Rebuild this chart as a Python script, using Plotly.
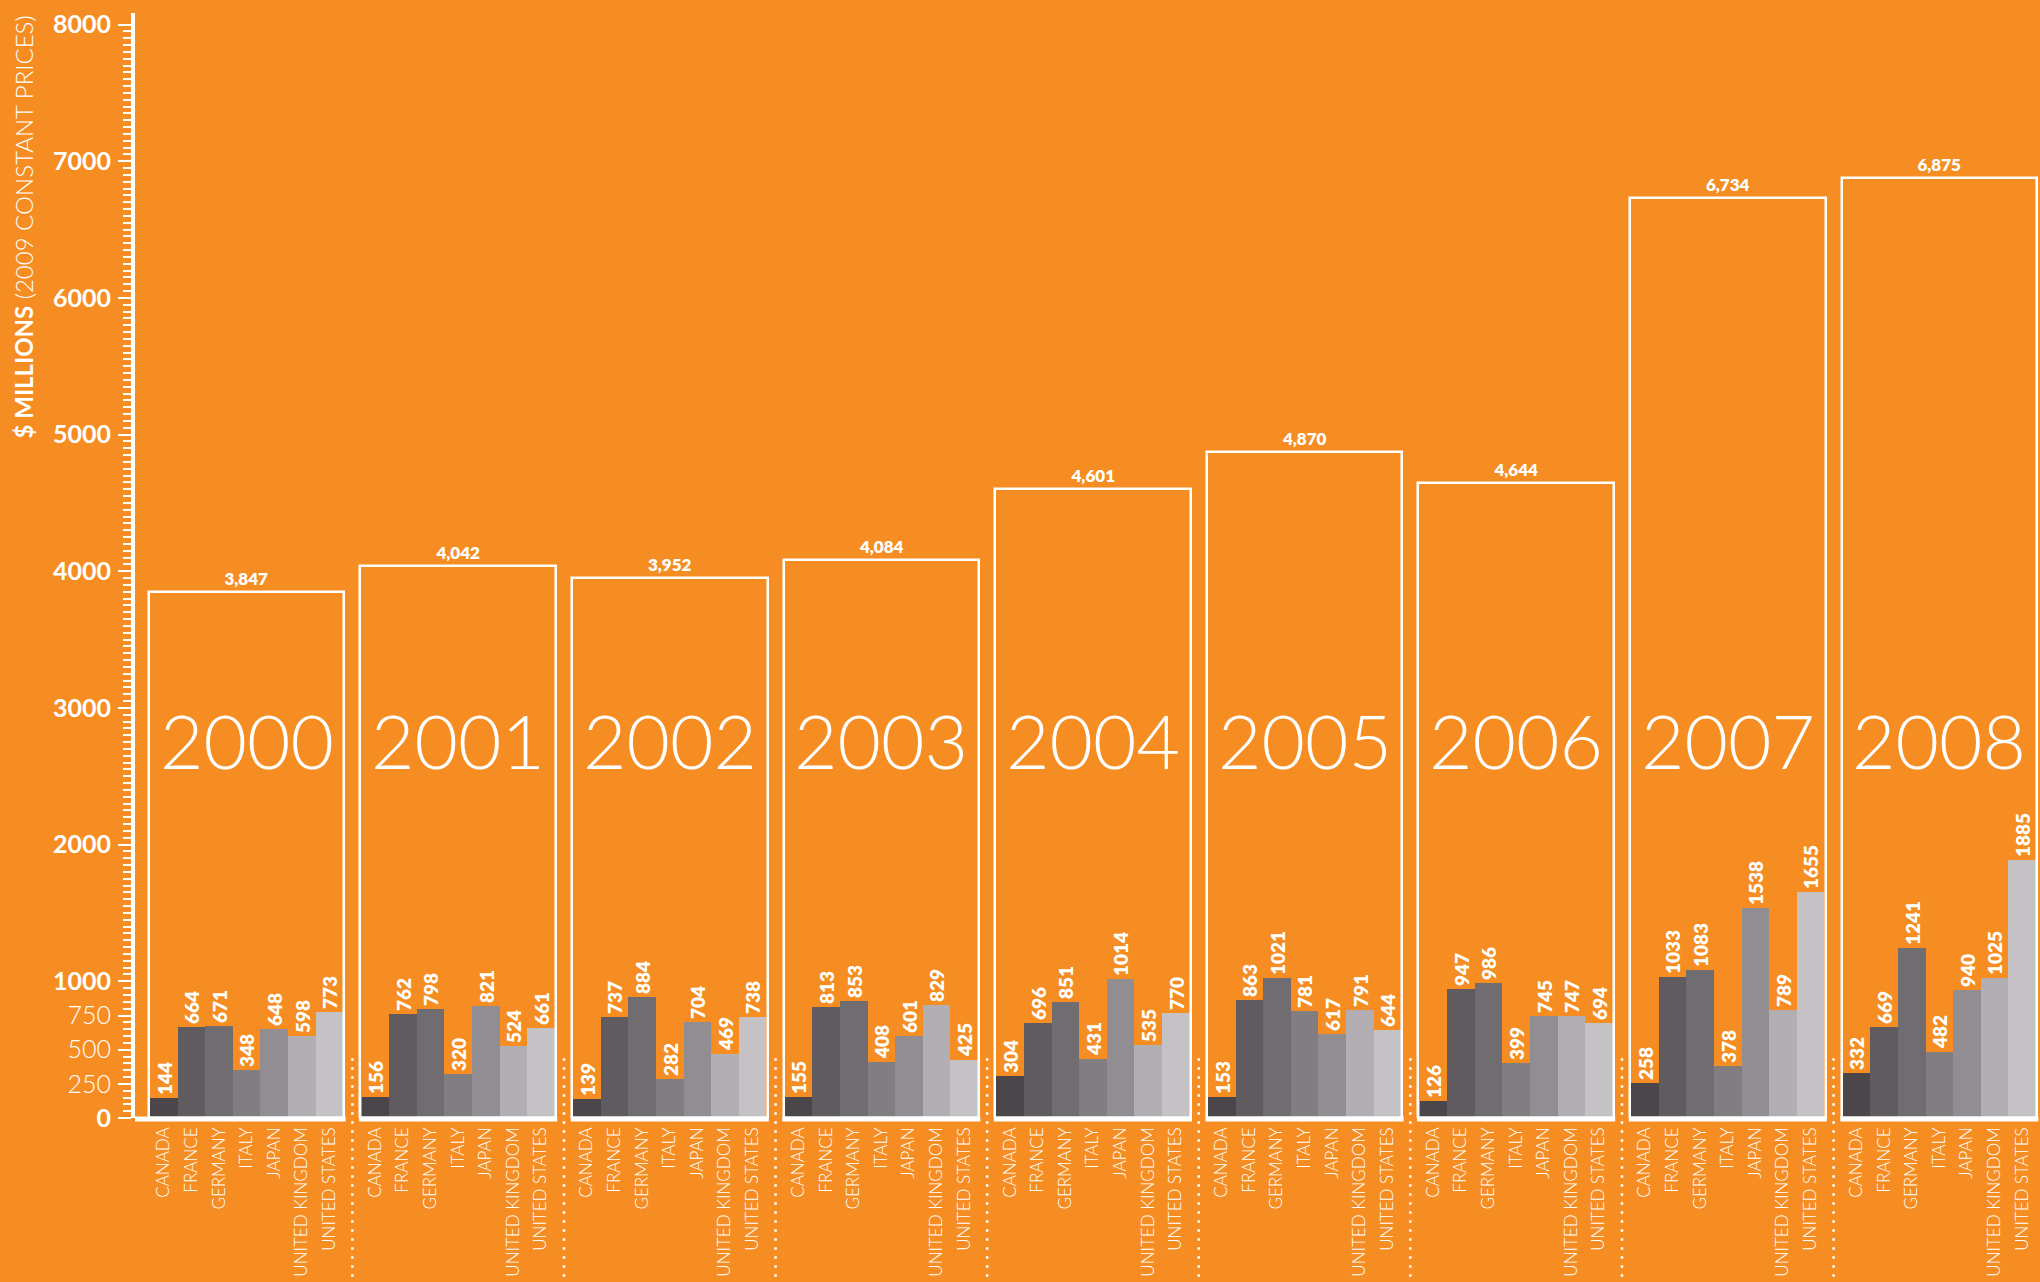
import plotly.graph_objects as go

# Aid by donor country, $ millions (2009 constant prices)
years = ["2000", "2001", "2002", "2003", "2004", "2005", "2006", "2007", "2008"]
countries = ["CANADA", "FRANCE", "GERMANY", "ITALY", "JAPAN", "UNITED KINGDOM", "UNITED STATES"]

canada = [144, 156, 139, 155, 304, 153, 126, 258, 332]
france = [664, 762, 737, 813, 696, 863, 947, 1033, 669]
germany = [671, 798, 884, 853, 851, 1021, 986, 1083, 1241]
italy = [348, 320, 282, 408, 431, 781, 399, 378, 482]
japan = [648, 821, 704, 601, 1014, 617, 745, 1538, 940]
united_kingdom = [598, 524, 469, 829, 535, 791, 747, 789, 1025]
united_states = [773, 661, 738, 425, 770, 644, 694, 1655, 1885]
totals = [3847, 4042, 3952, 4084, 4601, 4870, 4644, 6734, 6875]

series = [canada, france, germany, italy, japan, united_kingdom, united_states]
colors = ["#4b464a", "#5f5b5f", "#706d70", "#807e81", "#908e92", "#b1afb3", "#c4c2c5"]

y_labels_bold = [0, 1000, 2000, 3000, 4000, 5000, 6000, 7000, 8000]
y_labels_light = [250, 500, 750]

ORANGE = "#f68d22"
WHITE = "#ffffff"
FONT = "Lato"

PITCH = 23 / 3          # group spacing in bar widths
N = len(countries)
X_MIN, X_MAX = -1.043, 67.98
Y_MAX = 8085
OUT_HALF = N / 2 + 0.0435   # half width of the year outline

fig = go.Figure()

# country bars
for j, (name, vals, col) in enumerate(zip(countries, series, colors)):
    xs = [g * PITCH + j for g in range(len(years))]
    fig.add_trace(go.Bar(
        x=xs, y=vals, width=1, name=name,
        marker=dict(color=col, line=dict(width=0)),
        text=[str(v) for v in vals], textposition="outside", textangle=-90,
        textfont=dict(family=FONT, size=19, color=WHITE, weight=800),
        cliponaxis=False, constraintext="none", hoverinfo="x+y",
    ))

# yearly total outlines
centers = [g * PITCH + (N - 1) / 2 for g in range(len(years))]
fig.add_trace(go.Bar(
    x=centers, y=totals, width=2 * OUT_HALF, name="TOTAL",
    marker=dict(color="rgba(0,0,0,0)", line=dict(color=WHITE, width=2.5)),
    text=[f"{t:,}" for t in totals], textposition="outside", textangle=0,
    textfont=dict(family=FONT, size=17, color=WHITE, weight=800),
    cliponaxis=False, constraintext="none", hoverinfo="y",
))

shapes = []
# baseline segments, broken between the year groups
for g, c in enumerate(centers):
    x0 = X_MIN if g == 0 else c - OUT_HALF - 0.045
    x1 = c + OUT_HALF + 0.045
    shapes.append(dict(type="line", xref="x", yref="paper", x0=x0, x1=x1,
                       y0=-0.0009, y1=-0.0009, line=dict(color=WHITE, width=5)))
# dotted separators between the groups
for g in range(len(years) - 1):
    xs = g * PITCH + N - 0.5 + (PITCH - N) / 2
    shapes.append(dict(type="line", xref="x", yref="paper", x0=xs, x1=xs,
                       y0=-0.16, y1=0.0555,
                       line=dict(color=WHITE, width=2.5, dash="2.5px,6.5px")))

annotations = []
for yr, c in zip(years, centers):
    annotations.append(dict(x=c, y=2768, xref="x", yref="y", text=yr, showarrow=False,
                            xanchor="center", yanchor="middle",
                            font=dict(family=FONT, size=75, color=WHITE, weight=300)))
annotations.append(dict(x=-0.0583, y=1, xref="paper", yref="paper",
                        text="<b>$ MILLIONS</b> (2009 CONSTANT PRICES)",
                        textangle=-90, showarrow=False, xanchor="center", yanchor="top",
                        font=dict(family=FONT, size=24, color=WHITE, weight=300)))

# y ticks every 250, labelled at the thousands and the first quarter steps
ytickvals = list(range(0, 8001, 250))
yticktext = []
for v in ytickvals:
    if v in y_labels_bold:
        yticktext.append(f"<b>{v}</b>")
    elif v in y_labels_light:
        yticktext.append(str(v))
    else:
        yticktext.append("")

xtickvals = [g * PITCH + j for g in range(len(years)) for j in range(N)]
xticktext = [countries[j] for g in range(len(years)) for j in range(N)]

fig.update_layout(
    width=2040, height=1282,
    margin=dict(l=135, r=0, t=13, b=164, autoexpand=False),
    paper_bgcolor=ORANGE, plot_bgcolor=ORANGE,
    barmode="overlay", bargap=0, showlegend=False,
    font=dict(family=FONT, color=WHITE),
    shapes=shapes, annotations=annotations,
    xaxis=dict(range=[X_MIN, X_MAX], showgrid=False, zeroline=False, showline=False,
               automargin=False,
               tickmode="array", tickvals=xtickvals, ticktext=xticktext,
               tickangle=-90, ticks="", ticklabelstandoff=5,
               tickfont=dict(family=FONT, size=17, color=WHITE, weight=300)),
    yaxis=dict(range=[0, Y_MAX], showgrid=False, zeroline=False, automargin=False,
               showline=True, linecolor=WHITE, linewidth=4,
               tickmode="array", tickvals=ytickvals, ticktext=yticktext,
               ticks="outside", ticklen=13, tickwidth=2, tickcolor=WHITE,
               ticklabelstandoff=2,
               tickfont=dict(family=FONT, size=25, color=WHITE, weight=300),
               minor=dict(tickmode="array", tickvals=list(range(0, 8001, 50)),
                          ticks="outside", ticklen=8, tickwidth=2, tickcolor=WHITE)),
)

fig.write_html("out.html")
